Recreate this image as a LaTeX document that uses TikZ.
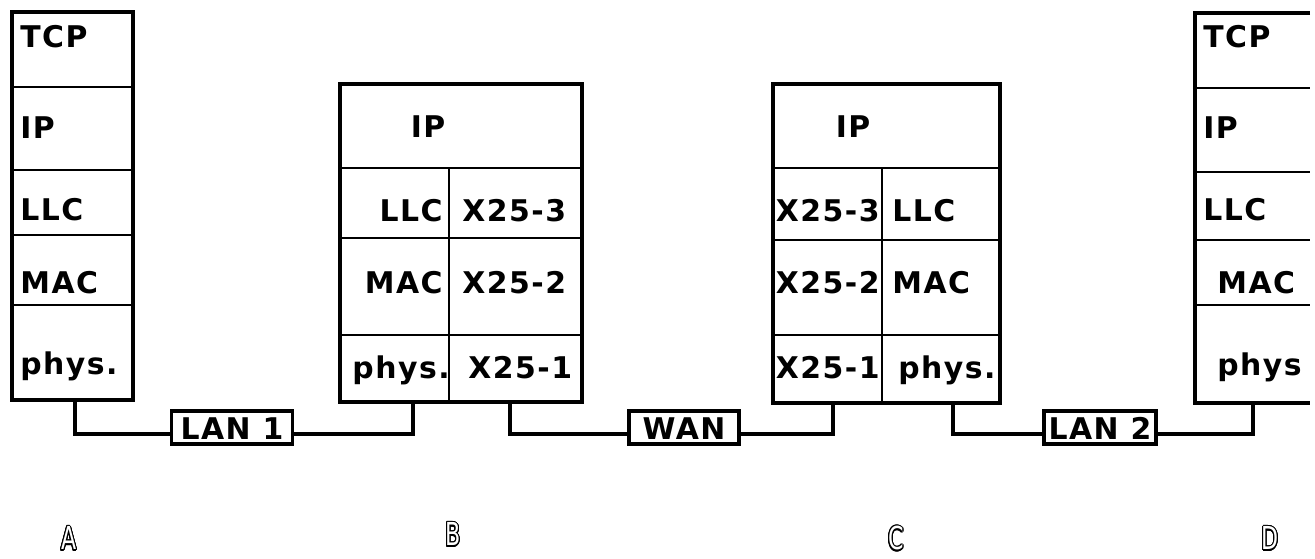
\documentclass[tikz,border=0pt]{standalone}
\usepackage{fontspec}
\setmainfont{DejaVu Sans}
\newfontfamily\layerfont{DejaVu Sans}[LetterSpace=5]
\newfontfamily\hostfont{DejaVu Sans}[FakeStretch=0.7]
\usepackage{contour}
\contourlength{0.7pt}
\usetikzlibrary{calc}

\tikzset{
  frame/.style={line width=2.6pt},
  cell/.style={line width=1.1pt},
  wire/.style={line width=2.4pt},
  tag/.style={font=\layerfont\bfseries\fontsize{17}{18}\selectfont, inner sep=0pt},
  netbox/.style={draw, fill=white, line width=2.2pt, font=\layerfont\bfseries\fontsize{17}{18}\selectfont,
    text height=0.46cm, text depth=0cm, inner ysep=0.1cm, inner xsep=0pt, minimum height=0.66cm},
  hostname/.style={font=\hostfont\fontsize{18}{20}\selectfont, inner sep=1pt}
}

\begin{document}
\begin{tikzpicture}[x=0.02cm, y=-0.02cm]
  \clip (0,0) rectangle (1315,558);
  \fill[white] (0,0) rectangle (1315,558);

  % host A
  \foreach \y in {87,170,235,305} \draw[cell] (12,\y) -- (133,\y);
  \draw[frame] (12,12) rectangle (133,400);
  \node[tag, anchor=base west] (aTCP) at (20,47) {TCP};
  \node[tag, anchor=base west] (aIP) at (20,138) {IP};
  \node[tag, anchor=base west] (aLLC) at (20,220) {LLC};
  \node[tag, anchor=base west] (aMAC) at (20,293) {MAC};
  \node[tag, anchor=base west] (aPHY) at (20,374) {phys.};
  \coordinate (footA) at (75,400);

  % router B
  \foreach \y in {168,238,335} \draw[cell] (340,\y) -- (582,\y);
  \draw[cell] (449,168) -- (449,402);
  \draw[frame] (340,84) rectangle (582,402);
  \node[tag, anchor=base] (bIP) at (428,137) {IP};
  \node[tag, anchor=base east] (bLLC) at (443,221) {LLC};
  \node[tag, anchor=base west] (bX3) at (462,221) {X25-3};
  \node[tag, anchor=base east] (bMAC) at (443,293) {MAC};
  \node[tag, anchor=base west] (bX2) at (462,293) {X25-2};
  \node[tag, anchor=base east] (bPHY) at (450,378) {phys.};
  \node[tag, anchor=base west] (bX1) at (468,378) {X25-1};
  \coordinate (footB1) at (413,402);
  \coordinate (footB2) at (510,402);

  % router C
  \foreach \y in {168,240,335} \draw[cell] (773,\y) -- (1000,\y);
  \draw[cell] (882,168) -- (882,403);
  \draw[frame] (773,84) rectangle (1000,403);
  \node[tag, anchor=base] (cIP) at (853,137) {IP};
  \node[tag, anchor=base east] (cX3) at (880,221) {X25-3};
  \node[tag, anchor=base west] (cLLC) at (892,221) {LLC};
  \node[tag, anchor=base east] (cX2) at (880,293) {X25-2};
  \node[tag, anchor=base west] (cMAC) at (892,293) {MAC};
  \node[tag, anchor=base east] (cX1) at (880,378) {X25-1};
  \node[tag, anchor=base west] (cPHY) at (898,378) {phys.};
  \coordinate (footC1) at (833,403);
  \coordinate (footC2) at (953,403);

  % host D, cut off at the right
  \foreach \y in {88,172,240,305} \draw[cell] (1195,\y) -- (1310,\y);
  \draw[frame] (1310,13) -- (1195,13) -- (1195,403) -- (1310,403);
  \node[tag, anchor=base west] (dTCP) at (1203,47) {TCP};
  \node[tag, anchor=base west] (dIP) at (1203,138) {IP};
  \node[tag, anchor=base west] (dLLC) at (1203,220) {LLC};
  \node[tag, anchor=base west] (dMAC) at (1217,293) {MAC};
  \node[tag, anchor=base west] (dPHY) at (1217,375) {phys};
  \coordinate (footD) at (1253,403);

  % networks
  \coordinate (bus) at (0,434);
  \node[netbox, minimum width=2.42cm] (lan1) at (232,427.5) {LAN 1};
  \node[netbox, minimum width=2.2cm] (wan) at (684,427.5) {WAN};
  \node[netbox, minimum width=2.24cm] (lan2) at (1100,427.5) {LAN 2};

  \draw[wire] (footA) |- (lan1.west |- bus);
  \draw[wire] (lan1.east |- bus) -| (footB1);
  \draw[wire] (footB2) |- (wan.west |- bus);
  \draw[wire] (wan.east |- bus) -| (footC1);
  \draw[wire] (footC2) |- (lan2.west |- bus);
  \draw[wire] (lan2.east |- bus) -| (footD);

  % machine names
  \node[hostname] (nameA) at (69,539) {\contour{black}{\textcolor{white}{A}}};
  \node[hostname] (nameB) at (453,535) {\contour{black}{\textcolor{white}{B}}};
  \node[hostname] (nameC) at (896,539) {\contour{black}{\textcolor{white}{C}}};
  \node[hostname] (nameD) at (1270,539) {\contour{black}{\textcolor{white}{D}}};
\end{tikzpicture}
\end{document}
